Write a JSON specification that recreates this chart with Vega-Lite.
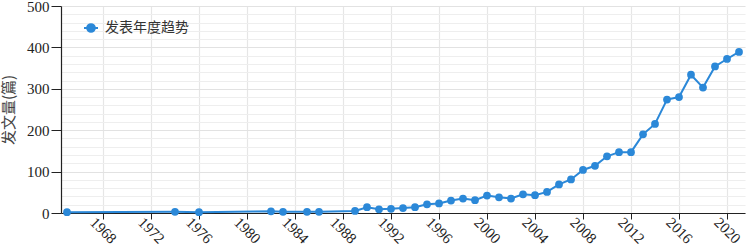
{
  "$schema": "https://vega.github.io/schema/vega-lite/v6.json",
  "autosize": "none",
  "padding": {"left": 61, "top": 6, "right": 4, "bottom": 32},
  "width": 684,
  "height": 207,
  "background": "white",
  "config": {
    "view": {"stroke": null},
    "font": "Liberation Serif, Noto Sans CJK SC",
    "axis": {"labelFont": "Liberation Serif, serif"}
  },
  "data": {
    "values": [
      {"year": 1965, "count": 2}, {"year": 1974, "count": 3}, {"year": 1976, "count": 2},
      {"year": 1982, "count": 4}, {"year": 1983, "count": 3}, {"year": 1985, "count": 3},
      {"year": 1986, "count": 3}, {"year": 1989, "count": 5}, {"year": 1990, "count": 14},
      {"year": 1991, "count": 9}, {"year": 1992, "count": 10}, {"year": 1993, "count": 12},
      {"year": 1994, "count": 14}, {"year": 1995, "count": 21}, {"year": 1996, "count": 23},
      {"year": 1997, "count": 30}, {"year": 1998, "count": 35}, {"year": 1999, "count": 31},
      {"year": 2000, "count": 42}, {"year": 2001, "count": 38}, {"year": 2002, "count": 35},
      {"year": 2003, "count": 45}, {"year": 2004, "count": 43}, {"year": 2005, "count": 51},
      {"year": 2006, "count": 69}, {"year": 2007, "count": 81}, {"year": 2008, "count": 104},
      {"year": 2009, "count": 114}, {"year": 2010, "count": 137}, {"year": 2011, "count": 147},
      {"year": 2012, "count": 147}, {"year": 2013, "count": 190}, {"year": 2014, "count": 215},
      {"year": 2015, "count": 274}, {"year": 2016, "count": 280}, {"year": 2017, "count": 334},
      {"year": 2018, "count": 303}, {"year": 2019, "count": 354}, {"year": 2020, "count": 372},
      {"year": 2021, "count": 389}
    ]
  },
  "encoding": {
    "x": {
      "field": "year", "type": "quantitative",
      "scale": {"domain": [1964.5, 2021.5], "nice": false, "zero": false},
      "axis": {
        "title": null,
        "values": [1968, 1972, 1976, 1980, 1984, 1988, 1992, 1996, 2000, 2004, 2008, 2012, 2016, 2020],
        "format": "d",
        "labelAngle": 45, "labelAlign": "center", "labelBaseline": "middle",
        "labelPadding": 11, "labelFontSize": 15, "labelColor": "#222",
        "labelFont": "Liberation Serif, serif",
        "domainColor": "#222", "domainWidth": 1.2,
        "tickColor": "#222", "tickSize": 6,
        "grid": true, "gridColor": "#e6e6e6", "gridWidth": 1.2
      }
    },
    "y": {
      "field": "count", "type": "quantitative",
      "scale": {"domain": [0, 500], "nice": false},
      "axis": {
        "title": "发文量(篇)",
        "titleFontSize": 15, "titleFontWeight": "normal", "titleColor": "#444",
        "titleFont": "Noto Sans CJK SC", "titlePadding": 10,
        "values": [0, 20, 40, 60, 80, 100, 120, 140, 160, 180, 200, 220, 240, 260, 280, 300, 320, 340, 360, 380, 400, 420, 440, 460, 480, 500],
        "labelExpr": "datum.value % 100 === 0 ? datum.label : ''",
        "labelFontSize": 15, "labelColor": "#222", "labelFont": "Liberation Serif, serif",
        "labelPadding": 2,
        "domainColor": "#222", "domainWidth": 1.2,
        "tickColor": "#222", "tickSize": 10,
        "tickOpacity": {"condition": {"test": "datum.value % 100 === 0", "value": 1}, "value": 0},
        "grid": true,
        "gridColor": {"condition": {"test": "datum.value % 100 === 0", "value": "#e2e2e2"}, "value": "#eeeeee"},
        "gridWidth": 1.2
      }
    },
    "color": {
      "datum": "发表年度趋势", "type": "nominal",
      "scale": {"range": ["#2b88d8"]},
      "legend": {
        "title": null, "orient": "none", "legendX": 22, "legendY": 14,
        "padding": 0,
        "symbolType": "M-1,0H1M-0.55,0A0.55,0.55 0 1,0 0.55,0A0.55,0.55 0 1,0 -0.55,0Z",
        "symbolSize": 196, "symbolStrokeWidth": 2,
        "symbolFillColor": "#2b88d8", "symbolStrokeColor": "#2b88d8",
        "labelFontSize": 14, "labelColor": "#333", "labelFont": "Noto Sans CJK SC",
        "labelOffset": 6
      }
    }
  },
  "layer": [
    {"mark": {"type": "line", "strokeWidth": 2}},
    {"mark": {"type": "point", "filled": true, "size": 60, "opacity": 1}}
  ]
}
